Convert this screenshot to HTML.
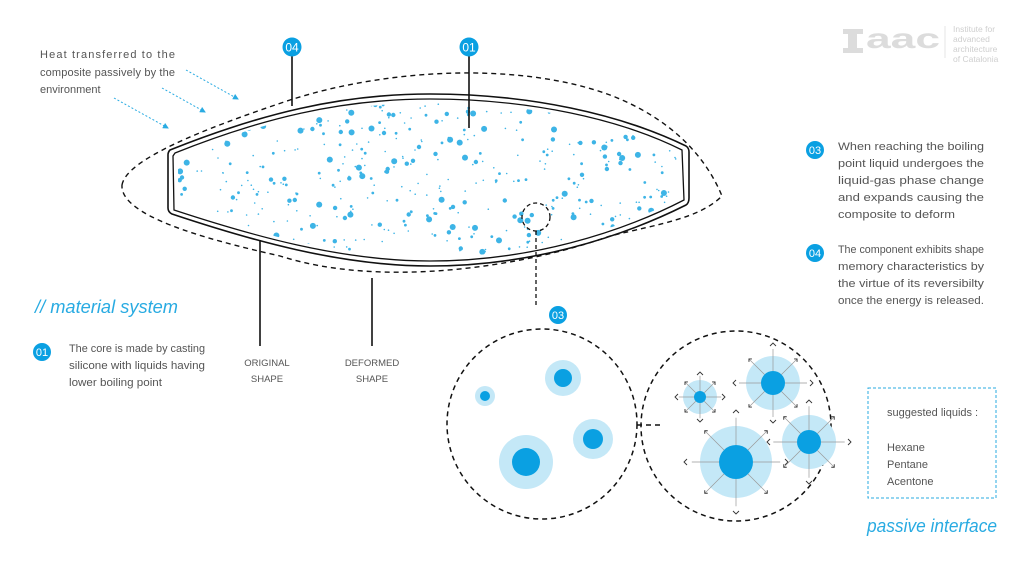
<!DOCTYPE html>
<html><head><meta charset="utf-8"><style>
html,body{margin:0;padding:0;background:#fff;}
svg{display:block;}
text{font-family:"Liberation Sans Narrow","Liberation Sans",sans-serif;}
</style></head><body>
<svg id="s" width="1024" height="576" viewBox="0 0 1024 576" xmlns="http://www.w3.org/2000/svg">
<defs>
<marker id="ah" markerWidth="6" markerHeight="6" refX="5" refY="3" orient="auto"><path d="M0,0 L6,3 L0,6 Z" fill="#29abe2"/></marker>
<clipPath id="core"><path d="M178,156 C260,122 340,103 430,103 C530,103 620,122 680,153 L682,197 C620,230 530,257 430,257 C340,257 250,232 178,207 Z"/></clipPath>
</defs>
<path d="M122,185 C126,160 200,130 290,100 C390,68 520,62 610,95 C670,118 705,155 722,196 C700,218 660,224 610,236 C520,268 380,288 280,256 C200,238 120,215 122,185 Z" fill="none" stroke="#111" stroke-width="1.4" stroke-dasharray="5,4"/>
<path d="M170,150 C260,114 340,94 430,94 C530,94 620,114 686,146 Q689,148 689,152 L689,198 Q689,203 686,205 C620,238 530,266 430,266 C340,266 250,240 172,214 Q168,212 168,208 L168,155 Q168,152 170,150 Z" fill="none" stroke="#111" stroke-width="1.6"/>
<path d="M175,153 C260,119 340,99 430,99 C530,99 620,119 682,150 L684,200 C620,233 530,261 430,261 C340,261 250,235 174,210 L173,156 Z" fill="none" stroke="#111" stroke-width="1.3"/>
<g id="dots" clip-path="url(#core)" fill="#3db4e6"></g>
<g stroke="#29abe2" stroke-width="1" stroke-dasharray="2,2" fill="none" marker-end="url(#ah)">
<line x1="186" y1="70" x2="238" y2="99"/>
<line x1="162" y1="88" x2="205" y2="112"/>
<line x1="114" y1="98" x2="168" y2="128"/>
</g>
<g font-size="11" fill="#555">
<text x="40" y="58" textLength="135" lengthAdjust="spacing">Heat transferred to the</text>
<text x="40" y="76" textLength="135" lengthAdjust="spacing">composite passively by the</text>
<text x="40" y="93">environment</text>
</g>
<line x1="292" y1="56" x2="292" y2="106" stroke="#111" stroke-width="1.6"/>
<circle cx="292" cy="47" r="9.5" fill="#0aa0e2"/><text x="292" y="51.5" font-size="12" fill="#fff" text-anchor="middle">04</text>
<line x1="469" y1="56" x2="469" y2="128" stroke="#111" stroke-width="1.6"/>
<circle cx="469" cy="47" r="9.5" fill="#0aa0e2"/><text x="469" y="51.5" font-size="12" fill="#fff" text-anchor="middle">01</text>
<line x1="260" y1="240" x2="260" y2="346" stroke="#111" stroke-width="1.6"/>
<line x1="372" y1="278" x2="372" y2="346" stroke="#111" stroke-width="1.6"/>
<g font-size="9.5" fill="#555" text-anchor="middle">
<text x="267" y="366">ORIGINAL</text><text x="267" y="382">SHAPE</text>
<text x="372" y="366">DEFORMED</text><text x="372" y="382">SHAPE</text>
</g>
<text x="35" y="313" font-size="18" font-style="italic" fill="#29abe2" textLength="143" lengthAdjust="spacingAndGlyphs">// material system</text>
<circle cx="42" cy="352" r="9" fill="#0aa0e2"/><text x="42" y="356" font-size="11" fill="#fff" text-anchor="middle">01</text>
<g font-size="11" fill="#555">
<text x="69" y="352" textLength="136" lengthAdjust="spacingAndGlyphs">The core is made by casting</text>
<text x="69" y="369" textLength="136" lengthAdjust="spacingAndGlyphs">silicone with liquids having</text>
<text x="69" y="386" textLength="93" lengthAdjust="spacingAndGlyphs">lower boiling point</text>
</g>
<circle cx="536" cy="217" r="14" fill="none" stroke="#111" stroke-width="1.3" stroke-dasharray="4,3"/>
<line x1="536" y1="231" x2="536" y2="305" stroke="#111" stroke-width="1.3" stroke-dasharray="4,3"/>
<circle cx="558" cy="315" r="9" fill="#0aa0e2"/><text x="558" y="319" font-size="11" fill="#fff" text-anchor="middle">03</text>
<circle cx="542" cy="424" r="95" fill="none" stroke="#111" stroke-width="1.5" stroke-dasharray="5,4"/>
<circle cx="736" cy="426" r="95" fill="none" stroke="#111" stroke-width="1.5" stroke-dasharray="5,4"/>
<line x1="637" y1="425" x2="660" y2="425" stroke="#111" stroke-width="1.5" stroke-dasharray="5,4"/>
<g fill="#c4e8f7"><circle cx="485" cy="396" r="10"/><circle cx="563" cy="378" r="18"/><circle cx="526" cy="462" r="27"/><circle cx="593" cy="439" r="20"/></g>
<g fill="#0aa0e2"><circle cx="485" cy="396" r="5"/><circle cx="563" cy="378" r="9"/><circle cx="526" cy="462" r="14"/><circle cx="593" cy="439" r="10"/></g>
<g id="exp"></g>
<circle cx="815" cy="150" r="9" fill="#0aa0e2"/><text x="815" y="154" font-size="11" fill="#fff" text-anchor="middle">03</text>
<g font-size="11" fill="#555">
<text x="838" y="150" textLength="146" lengthAdjust="spacingAndGlyphs">When reaching the boiling</text>
<text x="838" y="167" textLength="146" lengthAdjust="spacingAndGlyphs">point liquid undergoes the</text>
<text x="838" y="184" textLength="146" lengthAdjust="spacingAndGlyphs">liquid-gas phase change</text>
<text x="838" y="201" textLength="146" lengthAdjust="spacingAndGlyphs">and expands causing the</text>
<text x="838" y="218" textLength="117" lengthAdjust="spacingAndGlyphs">composite to deform</text>
<text x="838" y="253" textLength="146" lengthAdjust="spacingAndGlyphs">The component exhibits shape</text>
<text x="838" y="270" textLength="146" lengthAdjust="spacingAndGlyphs">memory characteristics by</text>
<text x="838" y="287" textLength="146" lengthAdjust="spacingAndGlyphs">the virtue of its reversibilty</text>
<text x="838" y="304" textLength="146" lengthAdjust="spacingAndGlyphs">once the energy is released.</text>
</g>
<circle cx="815" cy="253" r="9" fill="#0aa0e2"/><text x="815" y="257" font-size="11" fill="#fff" text-anchor="middle">04</text>
<rect x="868" y="388" width="128" height="110" fill="none" stroke="#29abe2" stroke-width="1" stroke-dasharray="3,2"/>
<g font-size="11" fill="#555">
<text x="887" y="416">suggested liquids :</text>
<text x="887" y="451">Hexane</text><text x="887" y="468">Pentane</text><text x="887" y="485">Acentone</text>
</g>
<text x="867" y="532" font-size="18" font-style="italic" fill="#29abe2" textLength="130" lengthAdjust="spacingAndGlyphs">passive interface</text>
<g fill="#dcdcdc"><rect x="843" y="29" width="20" height="5"/><rect x="848" y="29" width="9" height="24"/><rect x="843" y="48" width="20" height="5"/></g>
<text x="866" y="48" font-size="28" font-family="Liberation Serif,serif" font-weight="bold" fill="#dcdcdc" textLength="74" lengthAdjust="spacingAndGlyphs">aac</text>
<line x1="945" y1="26" x2="945" y2="58" stroke="#e6e6e6"/>
<g font-size="8.5" fill="#cfcfcf" font-family="Liberation Sans,sans-serif"><text x="953" y="32">Institute for</text><text x="953" y="42">advanced</text><text x="953" y="52">architecture</text><text x="953" y="62">of Catalonia</text></g>
</svg>
<script>
(function(){
var ns="http://www.w3.org/2000/svg",g=document.getElementById("dots");
var s=12345;function r(){s=(s*16807)%2147483647;return s/2147483647;}
for(var i=0;i<480;i++){var x=178+r()*505,y=103+r()*155;var rr=r();var rad=rr<0.5?0.8:(rr<0.75?1.4:(rr<0.9?2.2:3));
var c=document.createElementNS(ns,"circle");c.setAttribute("cx",x.toFixed(1));c.setAttribute("cy",y.toFixed(1));c.setAttribute("r",rad);g.appendChild(c);}
var e=document.getElementById("exp");
var B=[[700,397,12,6,25],[773,383,22,12,40],[736,462,31,17,52],[809,442,22,12,42]];
var h="";
B.forEach(function(b){var cx=b[0],cy=b[1],R=b[4];
h+='<circle cx="'+cx+'" cy="'+cy+'" r="'+(b[2]+5)+'" fill="#c4e8f7"/><circle cx="'+cx+'" cy="'+cy+'" r="'+b[3]+'" fill="#0aa0e2"/>';
for(var k=0;k<8;k++){var a=k*Math.PI/4;var dx=Math.cos(a),dy=Math.sin(a);
h+='<line x1="'+(cx+dx*b[3])+'" y1="'+(cy+dy*b[3])+'" x2="'+(cx+dx*R*0.85)+'" y2="'+(cy+dy*R*0.85)+'" stroke="#999" stroke-width="0.7"/>';
var px=cx+dx*R,py=cy+dy*R,l=3;
var p1x=px-dx*l+(-dy)*l,p1y=py-dy*l+dx*l,p2x=px-dx*l-(-dy)*l,p2y=py-dy*l-dx*l;
if(k%2==1){px=cx+dx*R*0.85;py=cy+dy*R*0.85;p1x=px-dx*l*1.4;p1y=py;p2x=px;p2y=py-dy*l*1.4;}
h+='<polyline points="'+p1x+','+p1y+' '+px+','+py+' '+p2x+','+p2y+'" fill="none" stroke="#333" stroke-width="0.9"/>';}
});
e.innerHTML=h;
})();
</script>
</body></html>
